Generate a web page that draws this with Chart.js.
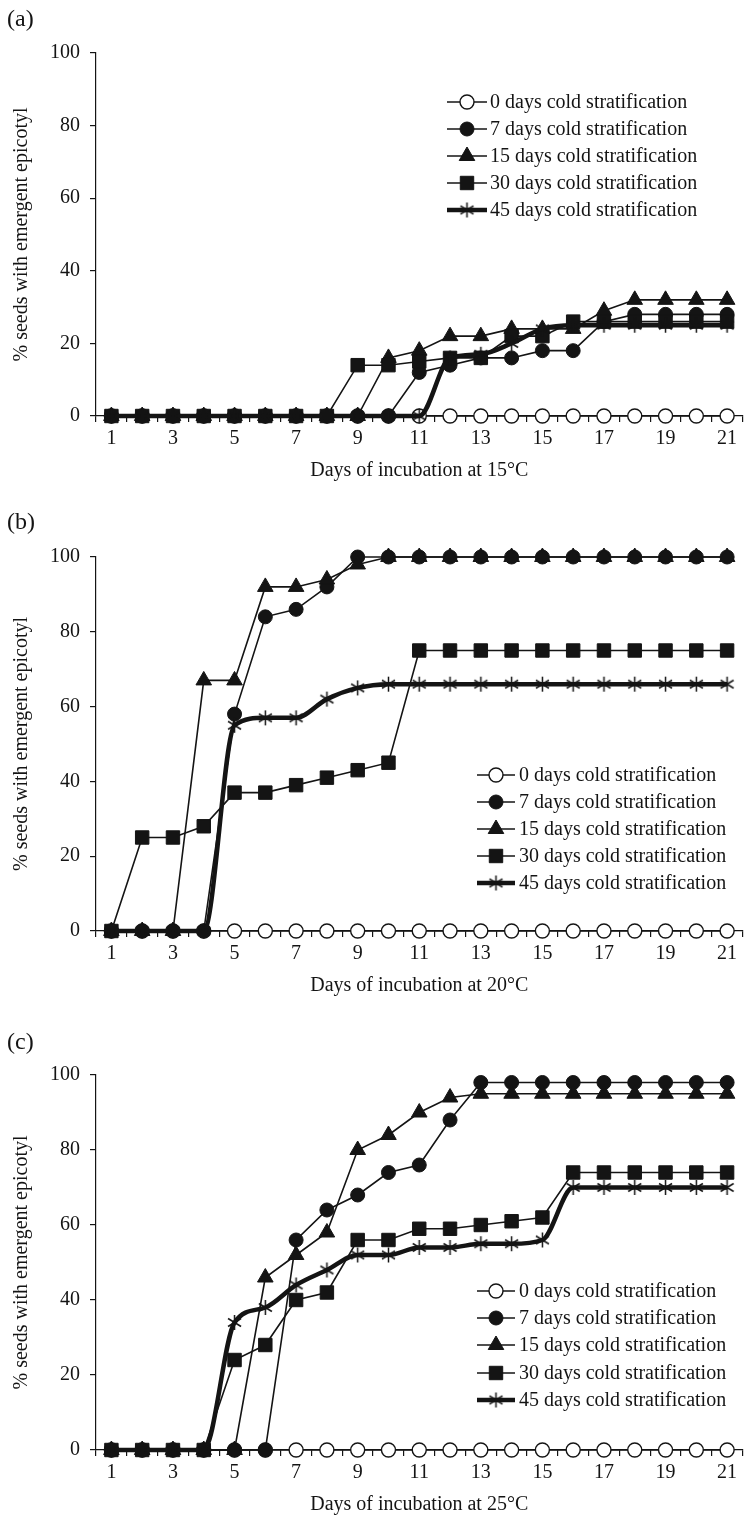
<!DOCTYPE html>
<html>
<head>
<meta charset="utf-8">
<script src="https://cdn.jsdelivr.net/npm/chart.js@4.4.1/dist/chart.umd.min.js"></script>
<style>
html, body { margin: 0; padding: 0; background: #fff; }
#wrap { position: relative; width: 753px; height: 1519px; }
canvas { position: absolute; left: 0; }
</style>
</head>
<body>
<div id="wrap">
<canvas id="graficoA" width="753" height="505" style="top:0px"></canvas>
<canvas id="graficoB" width="753" height="516" style="top:505px"></canvas>
<canvas id="graficoC" width="753" height="498" style="top:1021px"></canvas>
</div>
<script>
const days = ['1','2','3','4','5','6','7','8','9','10','11','12','13','14','15','16','17','18','19','20','21']
const seriesNames = [
    '0 days cold stratification',
    '7 days cold stratification',
    '15 days cold stratification',
    '30 days cold stratification',
    '45 days cold stratification'
]
const yTicks = [0, 20, 40, 60, 80, 100]

// (a) 15 °C
const a_cold0  = [0,0,0,0,0,0,0,0,0,0,0,0,0,0,0,0,0,0,0,0,0]
const a_cold7  = [0,0,0,0,0,0,0,0,0,0,12,14,16,16,18,18,26,28,28,28,28]
const a_cold15 = [0,0,0,0,0,0,0,0,0,16,18,22,22,24,24,24,29,32,32,32,32]
const a_cold30 = [0,0,0,0,0,0,0,0,14,14,15,16,16,22,22,26,26,26,26,26,26]
const a_cold45 = [0,0,0,0,0,0,0,0,0,0,0,16,17,20,24,25,25,25,25,25,25]

// (b) 20 °C
const b_cold0  = [0,0,0,0,0,0,0,0,0,0,0,0,0,0,0,0,0,0,0,0,0]
const b_cold7  = [0,0,0,0,58,84,86,92,100,100,100,100,100,100,100,100,100,100,100,100,100]
const b_cold15 = [0,0,0,67,67,92,92,94,98,100,100,100,100,100,100,100,100,100,100,100,100]
const b_cold30 = [0,25,25,28,37,37,39,41,43,45,75,75,75,75,75,75,75,75,75,75,75]
const b_cold45 = [0,0,0,0,55,57,57,62,65,66,66,66,66,66,66,66,66,66,66,66,66]

// (c) 25 °C
const c_cold0  = [0,0,0,0,0,0,0,0,0,0,0,0,0,0,0,0,0,0,0,0,0]
const c_cold7  = [0,0,0,0,0,0,56,64,68,74,76,88,98,98,98,98,98,98,98,98,98]
const c_cold15 = [0,0,0,0,0,46,52,58,80,84,90,94,95,95,95,95,95,95,95,95,95]
const c_cold30 = [0,0,0,0,24,28,40,42,56,56,59,59,60,61,62,74,74,74,74,74,74]
const c_cold45 = [0,0,0,0,34,38,44,48,52,52,54,54,55,55,56,70,70,70,70,70,70]

const ink = '#141414'
const serif = '"Liberation Serif", "Times New Roman", serif'
Chart.defaults.font.family = serif
Chart.defaults.font.size = 20
Chart.defaults.color = ink

// asterisco de 6 pontas para a série de 45 dias
function gerarAsterisco() {
    const c = document.createElement('canvas')
    c.width = 17
    c.height = 17
    const g = c.getContext('2d')
    g.strokeStyle = ink
    g.lineWidth = 1.5
    g.beginPath()
    g.moveTo(8.5, 1); g.lineTo(8.5, 16)
    g.moveTo(2, 4.5); g.lineTo(15, 12.5)
    g.moveTo(2, 12.5); g.lineTo(15, 4.5)
    g.stroke()
    return c
}
const asterisco = gerarAsterisco()

function estilos() {
    return [
        { pointStyle: 'circle', pointRadius: 7, pointBackgroundColor: '#fff', pointBorderWidth: 1.4, borderWidth: 1.6, order: 4 },
        { pointStyle: 'circle', pointRadius: 7, pointBackgroundColor: ink, pointBorderWidth: 1, borderWidth: 1.6, order: 3 },
        { pointStyle: 'triangle', pointRadius: 9, pointBackgroundColor: ink, pointBorderWidth: 1, borderWidth: 1.6, order: 2 },
        { pointStyle: 'rect', pointRadius: 9.5, pointBackgroundColor: ink, pointBorderWidth: 1, borderWidth: 1.6, order: 1 },
        { pointStyle: asterisco, pointRadius: 8, pointBackgroundColor: ink, pointBorderWidth: 0, borderWidth: 4.5, order: 0, cubicInterpolationMode: 'monotone' }
    ]
}

const legendaInterna = {
    id: 'legendaInterna',
    afterDatasetsDraw(chart, args, opts) {
        const ctx = chart.ctx
        ctx.save()
        chart.data.datasets.forEach((ds, i) => {
            const y = opts.rows[i]
            ctx.strokeStyle = ink
            ctx.lineWidth = ds.borderWidth
            ctx.beginPath()
            ctx.moveTo(opts.x0, y)
            ctx.lineTo(opts.x1, y)
            ctx.stroke()
            ctx.fillStyle = ds.pointBackgroundColor
            ctx.strokeStyle = ink
            ctx.lineWidth = ds.pointBorderWidth
            Chart.helpers.drawPoint(ctx, {
                pointStyle: ds.pointStyle,
                radius: ds.pointRadius,
                rotation: 0,
                borderWidth: ds.pointBorderWidth
            }, (opts.x0 + opts.x1) / 2, y)
            ctx.fillStyle = ink
            ctx.font = '20px ' + serif
            ctx.textBaseline = 'middle'
            ctx.textAlign = 'left'
            ctx.fillText(ds.label, opts.tx, y + 1)
        })
        ctx.restore()
    }
}

function criarPainel(id, letra, tituloX, series, geo) {
    const el = document.getElementById(id)
    const est = estilos()
    const datasets = series.map((valores, i) => Object.assign({
        label: seriesNames[i],
        data: valores,
        borderColor: ink,
        pointBorderColor: ink,
        tension: 0,
        clip: false
    }, est[i]))

    new Chart(el, {
        type: 'line',
        data: { labels: days, datasets: datasets },
        options: {
            responsive: false,
            animation: false,
            devicePixelRatio: 1,
            layout: { padding: { left: 7, right: 4, top: 0, bottom: geo.padBottom } },
            plugins: {
                legend: { display: false },
                tooltip: { enabled: false },
                title: {
                    display: true,
                    text: letra,
                    align: 'start',
                    color: ink,
                    font: { size: 24, weight: 'normal', family: serif },
                    padding: { top: geo.titleTop, bottom: geo.titleBottom }
                },
                legendaInterna: geo.legend
            },
            scales: {
                x: {
                    type: 'category',
                    offset: true,
                    grid: { offset: true, drawOnChartArea: false, tickLength: 6, color: ink, lineWidth: 1.2 },
                    border: { color: ink, width: 1.2 },
                    ticks: {
                        autoSkip: false,
                        maxRotation: 0,
                        padding: 5,
                        callback: (v, i) => i % 2 === 0 ? days[i] : ''
                    },
                    title: { display: true, text: tituloX, padding: { top: 0, bottom: 2 } },
                    afterFit: s => { s.height = 69 }
                },
                y: {
                    min: 0,
                    max: 100,
                    afterBuildTicks: s => { s.ticks = yTicks.map(v => ({ value: v })) },
                    ticks: { padding: 10 },
                    grid: { drawOnChartArea: false, tickLength: 6, color: ink, lineWidth: 1.2 },
                    border: { color: ink, width: 1.2 },
                    title: { display: true, text: '% seeds with emergent epicotyl', padding: { top: 3, bottom: 0 } },
                    afterFit: s => { s.width = 89 }
                }
            }
        },
        plugins: [legendaInterna]
    })
}

criarPainel('graficoA', '(a)', 'Days of incubation at 15°C',
    [a_cold0, a_cold7, a_cold15, a_cold30, a_cold45],
    { titleTop: 5.6, titleBottom: 18.6, padBottom: 20,
      legend: { x0: 447, x1: 487, tx: 490, rows: [102, 129, 156, 183, 210] } })

criarPainel('graficoB', '(b)', 'Days of incubation at 20°C',
    [b_cold0, b_cold7, b_cold15, b_cold30, b_cold45],
    { titleTop: 3.6, titleBottom: 19.6, padBottom: 21,
      legend: { x0: 477, x1: 515, tx: 519, rows: [270, 297, 324, 351, 378] } })

criarPainel('graficoC', '(c)', 'Days of incubation at 25°C',
    [c_cold0, c_cold7, c_cold15, c_cold30, c_cold45],
    { titleTop: 7.6, titleBottom: 17.6, padBottom: 0,
      legend: { x0: 477, x1: 515, tx: 519, rows: [270, 297, 324, 352, 379] } })
</script>
</body>
</html>
